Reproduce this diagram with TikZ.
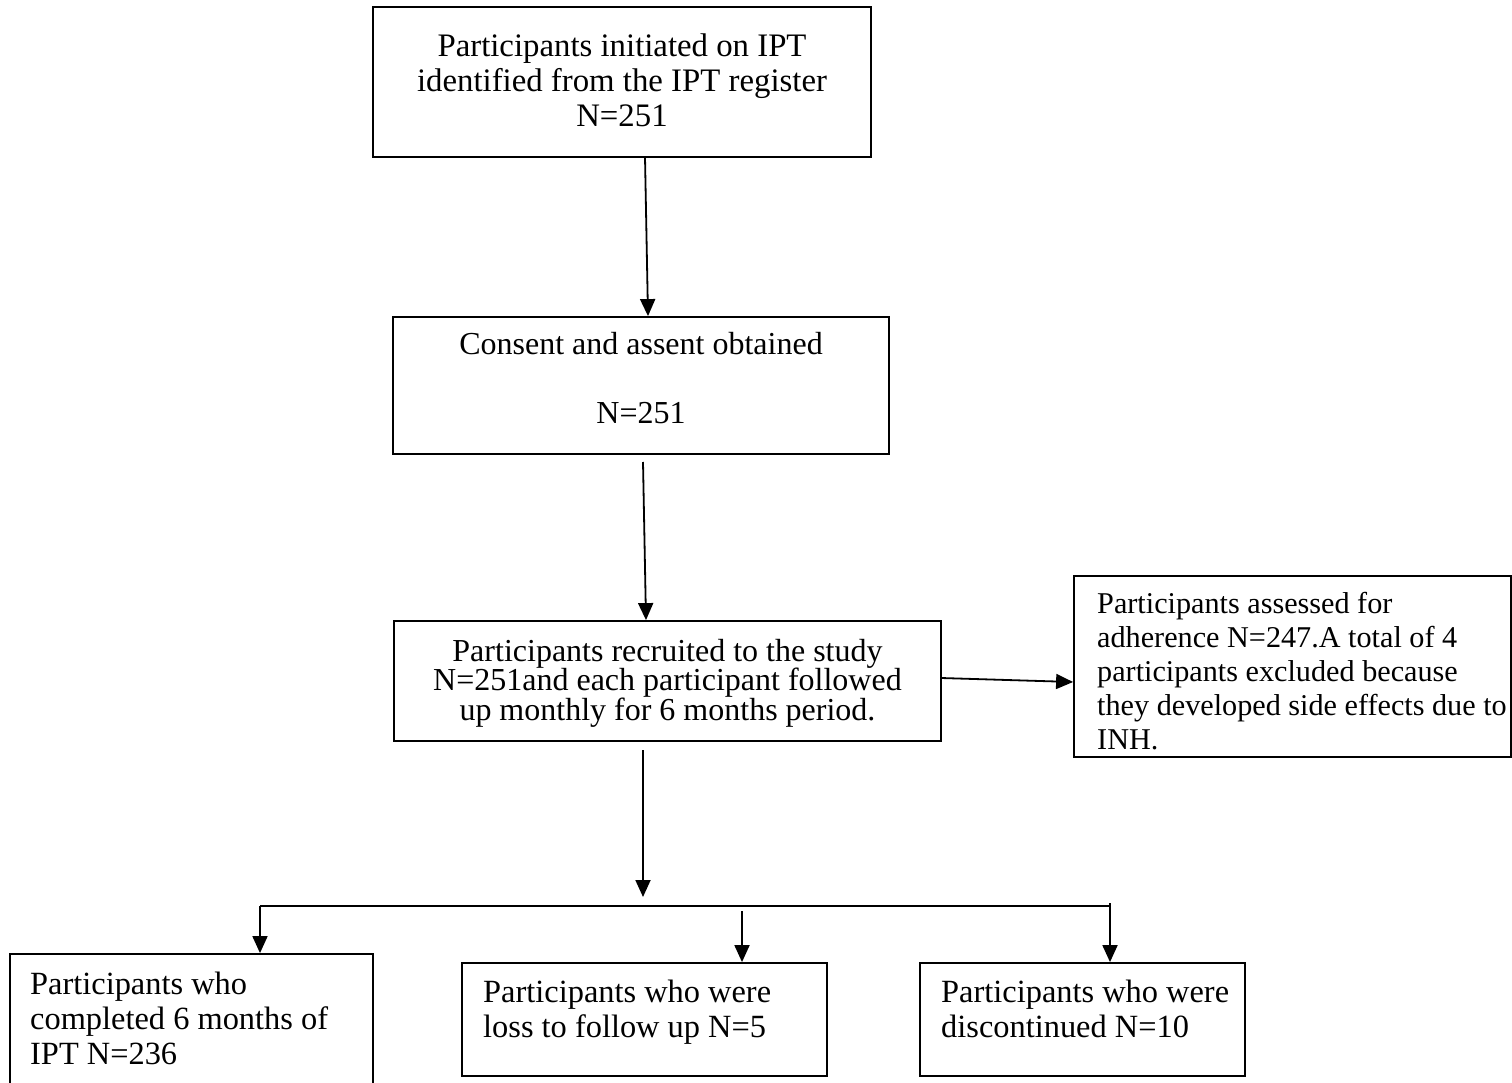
\documentclass[tikz,border=0pt]{standalone}
\usepackage{fontspec}
\setmainfont{Liberation Serif}
\usetikzlibrary{arrows.meta}
\begin{document}
\begin{tikzpicture}[x=1pt,y=-1pt,
  box/.style={draw,line width=1.8pt,inner sep=0pt},
  ctext/.style={inner sep=0pt,anchor=base,align=center,font=\fontsize{32}{35}\selectfont},
  ltext/.style={inner sep=0pt,anchor=base west,align=left,font=\fontsize{32}{35}\selectfont},
  arr/.style={line width=1.8pt,-{Triangle[length=17pt,width=15pt]}},
  ln/.style={line width=1.8pt}]
\useasboundingbox (0,0) rectangle (1512,1083);
\fill[white] (0,0) rectangle (1512,1083);
% boxes
\node[box,minimum width=498pt,minimum height=150pt] (b1) at (622,82) {};
\node[box,minimum width=496pt,minimum height=137pt] (b2) at (641,385.5) {};
\node[box,minimum width=547pt,minimum height=120pt] (b3) at (667.5,681) {};
\node[box,minimum width=437pt,minimum height=181pt] (side) at (1292.5,666.5) {};
\node[box,minimum width=363pt,minimum height=141pt] (bl) at (191.5,1024.5) {};
\node[box,minimum width=365pt,minimum height=113pt] (bm) at (644.5,1019.5) {};
\node[box,minimum width=325pt,minimum height=113pt] (br) at (1082.5,1019.5) {};
% texts (anchor = baseline of last line)
\node[ctext,font=\fontsize{32.8}{35}\selectfont] (t1) at (622,127) {Participants initiated on IPT\\identified from the IPT register\\N=251};
\node[ctext] (t2a) at (641,354) {Consent and assent obtained};
\node[ctext] (t2b) at (641,423) {N=251};
\node[ctext,font=\fontsize{32}{29.5}\selectfont] (t3) at (667.5,720) {Participants recruited to the study\\N=251and each participant followed\\up monthly for 6 months period.};
\node[ltext,font=\fontsize{30.2}{34}\selectfont] (ts) at (1097,749) {Participants assessed for\\adherence N=247.A total of 4\\participants excluded because\\they developed side effects due to\\INH.};
\node[ltext,font=\fontsize{32.4}{35}\selectfont] (tl) at (30,1064) {Participants who\\completed 6 months of\\IPT N=236};
\node[ltext,font=\fontsize{32.4}{35}\selectfont] (tm) at (483,1037) {Participants who were\\loss to follow up N=5};
\node[ltext,font=\fontsize{32.4}{35}\selectfont] (tr) at (941,1037) {Participants who were\\discontinued N=10};
% connector points
\coordinate (a1s) at (645,157);
\coordinate (a2s) at (643,462);
\coordinate (a3s) at (643,750);
\coordinate (a3e) at (643,897);
\coordinate (sds) at (941,678);
\coordinate (hl) at (260,906);
\coordinate (hr) at (1110,906);
\coordinate (hrt) at (1110,903);
\coordinate (ms) at (742,911);
% connectors
\draw[arr] (a1s) -- (b2.north -| 648,0);
\draw[arr] (a2s) -- (b3.north -| 646,0);
\draw[arr] (sds) -- (side.west |- 0,682);
\draw[arr] (a3s) -- (a3e);
\draw[ln] (hl) -- (hr);
\draw[arr] (hl) -- (hl |- bl.north);
\draw[arr] (ms) -- (ms |- bm.north);
\draw[arr] (hrt) -- (hrt |- br.north);
\end{tikzpicture}
\end{document}
